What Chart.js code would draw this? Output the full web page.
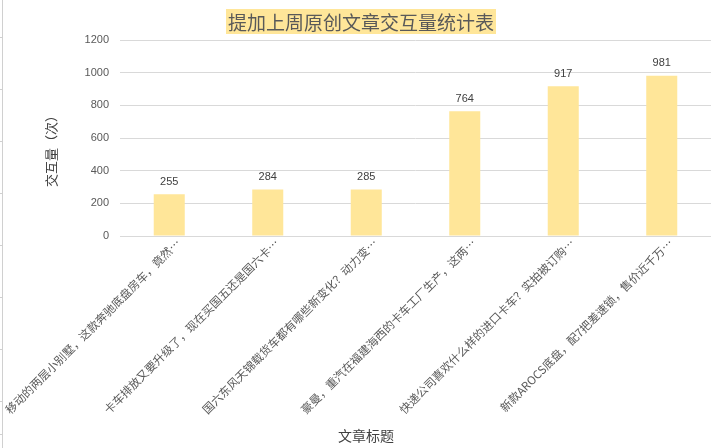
<!DOCTYPE html>
<html>
<head>
<meta charset="utf-8">
<script src="https://cdn.jsdelivr.net/npm/chart.js@4.4.1/dist/chart.umd.min.js"></script>
<style>
  html, body { margin: 0; padding: 0; background: #ffffff; }
  #wrap { position: relative; width: 711px; height: 448px; overflow: hidden; }
  #title {
    position: absolute; left: 226px; top: 9px; width: 270px; height: 25px;
    background: #FFE699; color: #595959;
    font-family: "Noto Sans CJK SC", sans-serif; font-size: 19px; font-weight: 400;
    line-height: 25px; text-align: center; white-space: nowrap;
  }
</style>
</head>
<body>
<div id="wrap">
  <canvas id="c" width="711" height="448"></canvas>
  <div id="title">提加上周原创文章交互量统计表</div>
</div>
<script>
const categories = [
  "移动的两层小别墅，这款奔驰底盘房车，竟然…",
  "卡车排放又要升级了，现在买国五还是国六卡…",
  "国六东风天锦载货车都有哪些新变化？动力变…",
  "豪曼，重汽在福建海西的卡车工厂生产，这两…",
  "快递公司喜欢什么样的进口卡车？实拍被订购…",
  "新款AROCS底盘，配7把差速锁，售价近千万…"
];
const interactions = [255, 284, 285, 764, 917, 981];
const yTicks = [0, 200, 400, 600, 800, 1000, 1200];
const xAxisTitle = "文章标题";
const yAxisTitle = "交互量（次）";

const labelPlugin = {
  id: 'extras',
  beforeDraw(chart) {
    const ctx = chart.ctx;
    ctx.save();
    ctx.strokeStyle = '#D0D0D0';
    ctx.lineWidth = 1;
    ctx.beginPath();
    ctx.moveTo(2.5, 0); ctx.lineTo(2.5, 448);
    [37, 89, 141, 193, 245, 297, 349, 401, 434].forEach(y => {
      ctx.moveTo(0, y + 0.5); ctx.lineTo(2.5, y + 0.5);
    });
    ctx.stroke();
    ctx.restore();
  },
  afterDatasetsDraw(chart) {
    const ctx = chart.ctx;
    const meta = chart.getDatasetMeta(0);
    ctx.save();
    ctx.font = '11px "Liberation Sans", sans-serif';
    ctx.fillStyle = '#404040';
    ctx.textAlign = 'center';
    ctx.textBaseline = 'bottom';
    meta.data.forEach((bar, i) => {
      ctx.fillText(String(chart.data.datasets[0].data[i]), bar.x, bar.y - 7);
    });
    ctx.font = '14px "Noto Sans CJK SC", sans-serif';
    ctx.fillStyle = '#404040';
    ctx.textBaseline = 'middle';
    ctx.fillText(xAxisTitle, 366, 436);
    ctx.translate(51, 148);
    ctx.rotate(-Math.PI / 2);
    ctx.font = '13px "Noto Sans CJK SC", sans-serif';
    ctx.fillText(yAxisTitle, 0, 0);
    ctx.restore();
  }
};

new Chart(document.getElementById('c'), {
  type: 'bar',
  data: {
    labels: categories,
    datasets: [{
      data: interactions,
      backgroundColor: '#FFE699',
      borderWidth: 0,
      barPercentage: 0.315,
      categoryPercentage: 1.0
    }]
  },
  options: {
    responsive: false,
    animation: false,
    devicePixelRatio: 1,
    layout: { padding: { top: 40, left: 0, right: 0, bottom: 0 } },
    plugins: { legend: { display: false }, title: { display: false }, tooltip: { enabled: false } },
    scales: {
      x: {
        grid: { display: false, drawTicks: false },
        border: { display: true, color: '#D9D9D9' },
        ticks: {
          autoSkip: false, minRotation: 45, maxRotation: 45, padding: 0, labelOffset: 9,
          color: '#595959',
          font: { family: '"Noto Sans CJK SC", sans-serif', size: 11.5 }
        },
        afterFit(scale) { scale.height = 212; scale.paddingLeft = 0; scale.paddingRight = 0; }
      },
      y: {
        min: 0, max: 1200,
        afterBuildTicks(scale) { scale.ticks = yTicks.map(v => ({ value: v })); },
        grid: { color: '#D9D9D9', drawTicks: false },
        border: { display: false },
        ticks: {
          padding: 11, color: '#595959',
          font: { family: '"Liberation Sans", sans-serif', size: 11 },
          callback: (v) => String(v)
        },
        afterFit(scale) { scale.width = 120; }
      }
    }
  },
  plugins: [labelPlugin]
});
</script>
</body>
</html>
